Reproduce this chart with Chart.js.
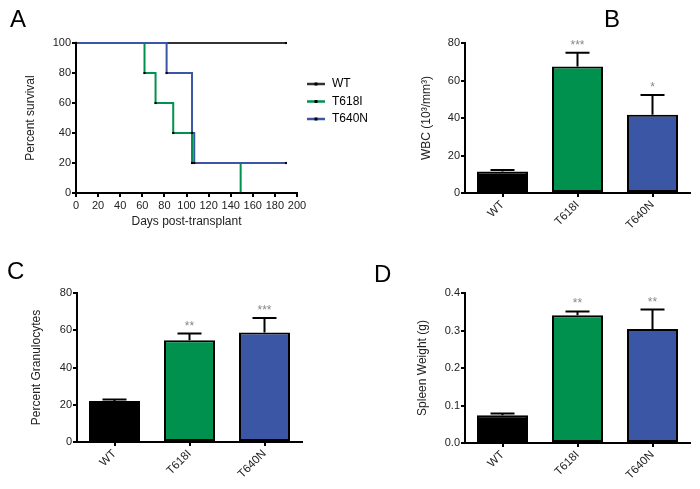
<!DOCTYPE html>
<html>
<head>
<meta charset="utf-8">
<script src="https://cdn.jsdelivr.net/npm/chart.js@4.4.1/dist/chart.umd.min.js"></script>
<style>
  body { margin: 0; background: #fff; width: 700px; height: 489px; position: relative; overflow: hidden; font-family: "Liberation Sans", Arial, sans-serif; }
  canvas { position: absolute; }
  .tag { position: absolute; font-size: 24px; line-height: 24px; color: #000; }
</style>
</head>
<body>
<canvas id="chartA" width="395" height="245" style="left:0;top:0"></canvas>
<canvas id="chartB" width="305" height="245" style="left:395px;top:0"></canvas>
<canvas id="chartC" width="365" height="244" style="left:0;top:245px"></canvas>
<canvas id="chartD" width="335" height="244" style="left:365px;top:245px"></canvas>
<div class="tag" style="left:10px;top:7px">A</div>
<div class="tag" style="left:604px;top:7px">B</div>
<div class="tag" style="left:7px;top:259px">C</div>
<div class="tag" style="left:374px;top:262px">D</div>
<script>
// panel A - survival (days, percent)
const wtDays = [0, 190];
const wtSurv = [100, 100];
const t618Days = [0, 62, 72, 88, 105, 149];
const t618Surv = [100, 80, 60, 40, 20, 0];
const t640Days = [0, 82, 105, 107, 190];
const t640Surv = [100, 80, 40, 20, 20];
const survTicks = [0, 20, 40, 60, 80, 100, 120, 140, 160, 180, 200];

// panels B-D - bars (mean + SEM)
const groups = ['WT', 'T618I', 'T640N'];
const wbcMean = [11.5, 67.5, 41.8];
const wbcErr = [0.8, 7.3, 10.5];
const wbcStars = ['', '***', '*'];
const granMean = [22, 54.6, 58.8];
const granErr = [0.8, 3.6, 7.8];
const granStars = ['', '**', '***'];
const spleenMean = [0.074, 0.341, 0.304];
const spleenErr = [0.005, 0.01, 0.052];
const spleenStars = ['', '**', '**'];

const colors = ['#000000', '#00914f', '#3a56a5'];
const lineColors = ['#333333', '#00914f', '#3a56a5'];
const FONT = '"Liberation Sans", Arial, sans-serif';

Chart.defaults.font.family = FONT;
Chart.defaults.color = '#222';

const pts = (xs, ys) => xs.map((x, i) => ({ x: x, y: ys[i] }));

const legendPlugin = {
  id: 'survLegend',
  afterDraw(chart) {
    const ctx = chart.ctx;
    ctx.save();
    groups.forEach((g, i) => {
      const y = 84 + i * 17.5;
      ctx.strokeStyle = lineColors[i];
      ctx.lineWidth = 2.5;
      ctx.beginPath();
      ctx.moveTo(307, y);
      ctx.lineTo(325, y);
      ctx.stroke();
      ctx.fillStyle = '#000';
      ctx.fillRect(314.5, y - 1.5, 3, 3);
      ctx.font = '12px ' + FONT;
      ctx.textBaseline = 'middle';
      ctx.fillText(g, 332, y);
    });
    ctx.restore();
  }
};

const axisCommon = {
  border: { display: true, color: '#000', width: 2 },
  grid: { display: true, drawOnChartArea: false, drawTicks: true, tickLength: 4, color: '#000', lineWidth: 2 },
};

new Chart(document.getElementById('chartA'), {
  type: 'line',
  data: {
    datasets: [
      { label: 'WT', data: pts(wtDays, wtSurv), borderColor: lineColors[0], order: 2, clip: false },
      { label: 'T618I', data: pts(t618Days, t618Surv), borderColor: lineColors[1], order: 1, clip: false },
      { label: 'T640N', data: pts(t640Days, t640Surv), borderColor: lineColors[2], order: 0, clip: false }
    ]
  },
  options: {
    responsive: false, animation: false, devicePixelRatio: 1,
    layout: { padding: { left: 0, top: 43, right: 98, bottom: 0 } },
    plugins: { legend: { display: false }, tooltip: { enabled: false } },
    elements: {
      line: { stepped: 'before', borderWidth: 2, tension: 0 },
      point: { radius: 1.5, pointStyle: 'rect', backgroundColor: '#000', borderColor: '#000', borderWidth: 0 }
    },
    scales: {
      x: {
        ...axisCommon, type: 'linear', min: 0, max: 200,
        afterBuildTicks: s => { s.ticks = survTicks.map(v => ({ value: v })); },
        ticks: { font: { size: 11 }, padding: 2, maxRotation: 0 },
        title: { display: true, text: 'Days post-transplant', font: { size: 12 }, color: '#222', padding: { top: 0, bottom: 16 } },
        afterFit: s => { s.height = 52; }
      },
      y: {
        ...axisCommon, min: 0, max: 100,
        ticks: { stepSize: 20, font: { size: 11 }, padding: 1 },
        title: { display: true, text: 'Percent survival', font: { size: 12 }, color: '#222', padding: { top: 23, bottom: 0 } },
        afterFit: s => { s.width = 76; }
      }
    }
  },
  plugins: [legendPlugin]
});

const errorPlugin = {
  id: 'errorBars',
  afterDatasetsDraw(chart) {
    const ctx = chart.ctx;
    const ys = chart.scales.y;
    const src = chart.options.plugins.errorBars;
    const meta = chart.getDatasetMeta(0);
    ctx.save();
    meta.data.forEach((bar, i) => {
      const top = ys.getPixelForValue(src.mean[i]);
      const cap = ys.getPixelForValue(src.mean[i] + src.err[i]);
      ctx.strokeStyle = '#000';
      ctx.lineWidth = 2;
      ctx.beginPath();
      ctx.moveTo(bar.x, top);
      ctx.lineTo(bar.x, cap);
      ctx.moveTo(bar.x - 12, cap);
      ctx.lineTo(bar.x + 12, cap);
      ctx.stroke();
      if (src.stars[i]) {
        ctx.fillStyle = '#888';
        ctx.font = '12px ' + FONT;
        ctx.textAlign = 'center';
        ctx.textBaseline = 'alphabetic';
        ctx.fillText(src.stars[i], bar.x, cap - 4);
      }
    });
    ctx.restore();
  }
};

function barChart(id, mean, err, stars, cfg) {
  return new Chart(document.getElementById(id), {
    type: 'bar',
    data: {
      labels: groups,
      datasets: [{
        data: mean,
        backgroundColor: colors,
        borderColor: '#000',
        borderWidth: 2,
        borderSkipped: false,
        barPercentage: 0.68,
        categoryPercentage: 1
      }]
    },
    options: {
      responsive: false, animation: false, devicePixelRatio: 1,
      layout: { padding: { left: 0, top: cfg.top, right: cfg.right, bottom: 0 } },
      plugins: {
        legend: { display: false }, tooltip: { enabled: false },
        errorBars: { mean: mean, err: err, stars: stars }
      },
      scales: {
        x: {
          ...axisCommon, offset: true,
          grid: { ...axisCommon.grid, offset: false },
          ticks: { font: { size: 11.5 }, padding: 1, minRotation: 45, maxRotation: 45 },
          afterFit: s => { s.height = cfg.xh; }
        },
        y: {
          ...axisCommon, min: 0, max: cfg.max,
          ticks: { stepSize: cfg.step, font: { size: 11 }, padding: 1, callback: cfg.fmt },
          title: { display: true, text: cfg.title, font: { size: 12 }, color: '#222', padding: { top: cfg.tpad, bottom: 0 } },
          afterFit: s => { s.width = cfg.yw; }
        }
      }
    },
    plugins: [errorPlugin]
  });
}

barChart('chartB', wbcMean, wbcErr, wbcStars,
  { top: 43, right: 10, xh: 52, yw: 70, max: 80, step: 20, tpad: 24, title: 'WBC (10³/mm³)', fmt: v => v });
barChart('chartC', granMean, granErr, granStars,
  { top: 48, right: 63, xh: 47, yw: 77, max: 80, step: 20, tpad: 29, title: 'Percent Granulocytes', fmt: v => v });
barChart('chartD', spleenMean, spleenErr, spleenStars,
  { top: 48, right: 10, xh: 46, yw: 100, max: 0.4, step: 0.1, tpad: 50, title: 'Spleen Weight (g)', fmt: v => v.toFixed(1) });
</script>
</body>
</html>
